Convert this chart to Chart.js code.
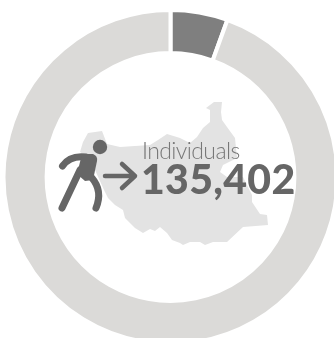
<!DOCTYPE html>
<html>
<head>
<meta charset="utf-8">
<script src="https://cdn.jsdelivr.net/npm/chart.js@4"></script>
<style>
  html, body { margin: 0; padding: 0; background: #fff; overflow: hidden; width: 334px; height: 338px; }
  #wrap { position: relative; width: 334px; height: 338px; overflow: hidden; }
  #donut { position: absolute; left: 0; top: 0; }
  .label { position: absolute; white-space: nowrap; line-height: 1; font-family: Lato, sans-serif; }
  #caption { left: 142px; top: 139px; font-size: 23px; font-weight: 300; letter-spacing: -0.6px; color: #777; }
  #total { left: 141px; top: 158px; font-size: 41px; font-weight: 900; letter-spacing: 0.3px; color: #666; }
</style>
</head>
<body>
<div id="wrap">
  <canvas id="donut" width="341" height="354"></canvas>
  <div class="label" id="caption">Individuals</div>
  <div class="label" id="total">135,402</div>
</div>
<script>
// values (second one)
const categories = ["Individuals", "Others"];
const values = [135402, 2313000];
const sliceColors = ["#7f7f7f", "#dbdad8"];

// outline of the country behind the text, page pixels
const mapOutline = [
  [214,102],[222,102],[221,112],[222,120],[227,127],[235,138],[237,158],[223,165],[220,172],[227,177],
  [243,177],[252,195],[252,202],[260,214],[267,215],[268,225],[243,227],[227,242],[213,242],[205,245],
  [200,242],[190,242],[183,245],[180,243],[172,240],[167,233],[160,227],[155,231],[150,229],[143,233],
  [135,228],[125,218],[123,210],[115,205],[108,198],[104,190],[95,170],[85,155],[80,152],[83,142],
  [88,133],[102,131],[107,144],[120,147],[135,146],[150,145],[158,140],[167,134],[180,138],[190,143],
  [197,137],[203,128],[210,122],[210,110],[206,108]
];

const backdrop = {
  id: "backdrop",
  afterDraw(chart) {
    const ctx = chart.ctx;
    ctx.save();
    ctx.fillStyle = "#e3e3e3";
    ctx.beginPath();
    mapOutline.forEach((p, i) => i ? ctx.lineTo(p[0], p[1]) : ctx.moveTo(p[0], p[1]));
    ctx.closePath();
    ctx.fill();

    // walking figure
    ctx.fillStyle = "#666";
    ctx.strokeStyle = "#666";
    ctx.lineCap = "round";
    ctx.lineJoin = "round";
    ctx.beginPath();
    ctx.arc(100, 147, 7.2, 0, Math.PI * 2);
    ctx.fill();
    ctx.lineWidth = 7;
    ctx.beginPath();
    ctx.moveTo(62.5, 166);
    ctx.quadraticCurveTo(70, 155, 86, 157);
    ctx.stroke();
    ctx.beginPath();
    ctx.moveTo(80, 170);
    ctx.lineTo(62, 208);
    ctx.stroke();
    ctx.beginPath();
    ctx.moveTo(92, 178);
    ctx.quadraticCurveTo(103, 191, 96, 208);
    ctx.stroke();
    ctx.beginPath();
    ctx.moveTo(82, 154);
    ctx.lineTo(93, 154);
    ctx.quadraticCurveTo(98, 156, 97, 161);
    ctx.lineTo(93, 180);
    ctx.lineTo(85, 181);
    ctx.lineTo(77, 174);
    ctx.closePath();
    ctx.fill();

    // arrow
    ctx.lineWidth = 4.5;
    ctx.beginPath();
    ctx.moveTo(105, 176);
    ctx.lineTo(135, 176);
    ctx.moveTo(122, 164);
    ctx.lineTo(135, 176);
    ctx.lineTo(122, 188);
    ctx.stroke();
    ctx.restore();
  }
};

new Chart(document.getElementById("donut"), {
  type: "doughnut",
  data: {
    labels: categories,
    datasets: [{
      data: values,
      backgroundColor: sliceColors,
      borderColor: "#fff",
      borderWidth: 4
    }]
  },
  options: {
    responsive: false,
    animation: false,
    radius: 167,
    cutout: 125,
    layout: { padding: 0 },
    plugins: {
      legend: { display: false },
      tooltip: { enabled: false }
    }
  },
  plugins: [backdrop]
});
</script>
</body>
</html>
